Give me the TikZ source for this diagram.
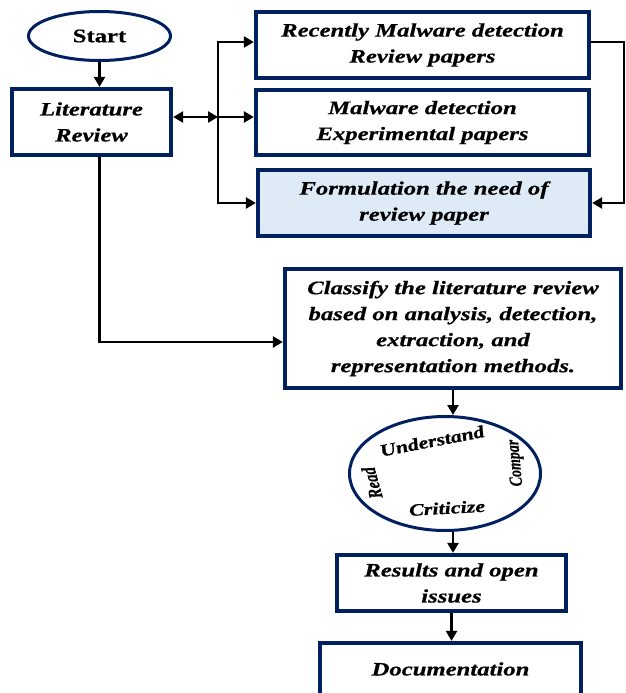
\documentclass[tikz,border=0pt]{standalone}
\usepackage{fontspec}
\usepackage{graphicx}
\setmainfont{Liberation Serif}[FakeBold=0.6]
\newfontfamily\widefont[FakeStretch=1.3,FakeBold=0.6]{Liberation Serif}
\usetikzlibrary{arrows.meta,shapes.geometric}
\definecolor{navy}{RGB}{0,32,96}
\definecolor{paleblue}{RGB}{222,234,246}
\tikzset{
  box/.style={draw=navy, line width=3.8pt, align=center, inner sep=0pt,
    font=\widefont\fontsize{19}{26}\selectfont\bfseries\itshape},
  oval/.style={draw=navy, line width=3pt, ellipse, inner sep=0pt},
  conn/.style={line width=2.6pt, draw=black},
  arr/.style={conn, -{Triangle[length=10pt,width=11pt]}},
  darr/.style={conn, {Triangle[length=10pt,width=11pt]}-{Triangle[length=10pt,width=11pt]}},
  word/.style={inner sep=0pt, font=\fontsize{#1}{#1}\selectfont\bfseries\itshape},
}
\begin{document}
\begin{tikzpicture}[x=1pt,y=-1pt]
\fill[white] (0,0) rectangle (626,693);
\useasboundingbox (0,0) rectangle (626,693);

\node[oval, minimum width=142pt, minimum height=49pt,
      font=\widefont\fontsize{19}{26}\selectfont\bfseries] (start) at (99.5,36) {Start};
\node[box, minimum width=159.5pt, minimum height=66.5pt] (lit) at (91.5,122) {Literature\\Review};
\node[box, minimum width=333.5pt, minimum height=66.5pt] (b1) at (422.5,45) {Recently Malware detection\\Review papers};
\node[box, minimum width=333.5pt, minimum height=65.5pt] (b2) at (422.5,122.5) {Malware detection\\Experimental papers};
\node[box, fill=paleblue, minimum width=332.5pt, minimum height=66.5pt] (b3) at (424,203) {Formulation the need of\\review paper};
\node[box, minimum width=336.5pt, minimum height=119.5pt] (cls) at (453,328.5)
  {Classify the literature review\\based on analysis, detection,\\extraction, and\\representation methods.};
\node[oval, minimum width=191pt, minimum height=114pt] (ell) at (445,473.5) {};
\node[word=17] (und) at (432,441) {\scalebox{1.3}[1]{\rotatebox{14}{Understand}}};
\node[word=15] (read) at (372,483) {\scalebox{1.3}[1]{\rotatebox{102}{Read}}};
\node[word=14] (comp) at (516,463) {\scalebox{1.3}[1]{\rotatebox{94}{Compar}}};
\node[word=17] (crit) at (447,508) {\scalebox{1.3}[1]{\rotatebox{4}{Criticize}}};
\node[box, minimum width=229.5pt, minimum height=56.5pt] (res) at (451.5,583) {Results and open\\issues};
\node[box, minimum width=261.5pt, minimum height=52.5pt] (doc) at (450.5,669) {Documentation};

\coordinate (j) at (218,117);
\draw[arr] (start.south) -- (start.south |- lit.north);
\draw[darr] (lit.east |- j) -- (j);
\draw[arr] (j) -- (b2.west |- j);
\draw[arr] (j) |- ([yshift=3pt]b1.west);
\draw[arr] (j) |- (b3.west);
\draw[arr] ([yshift=3pt]b1.east) -- ++(33,0) |- (b3.east);
\draw[arr] (lit.south -| start.south) |- ([yshift=-13.5pt]cls.west);
\draw[arr] (cls.south) -- (cls.south |- ell.north);
\draw[arr] (cls.south |- ell.south) -- (cls.south |- res.north);
\draw[arr] (res.south) -- (res.south |- doc.north);
\end{tikzpicture}
\end{document}
